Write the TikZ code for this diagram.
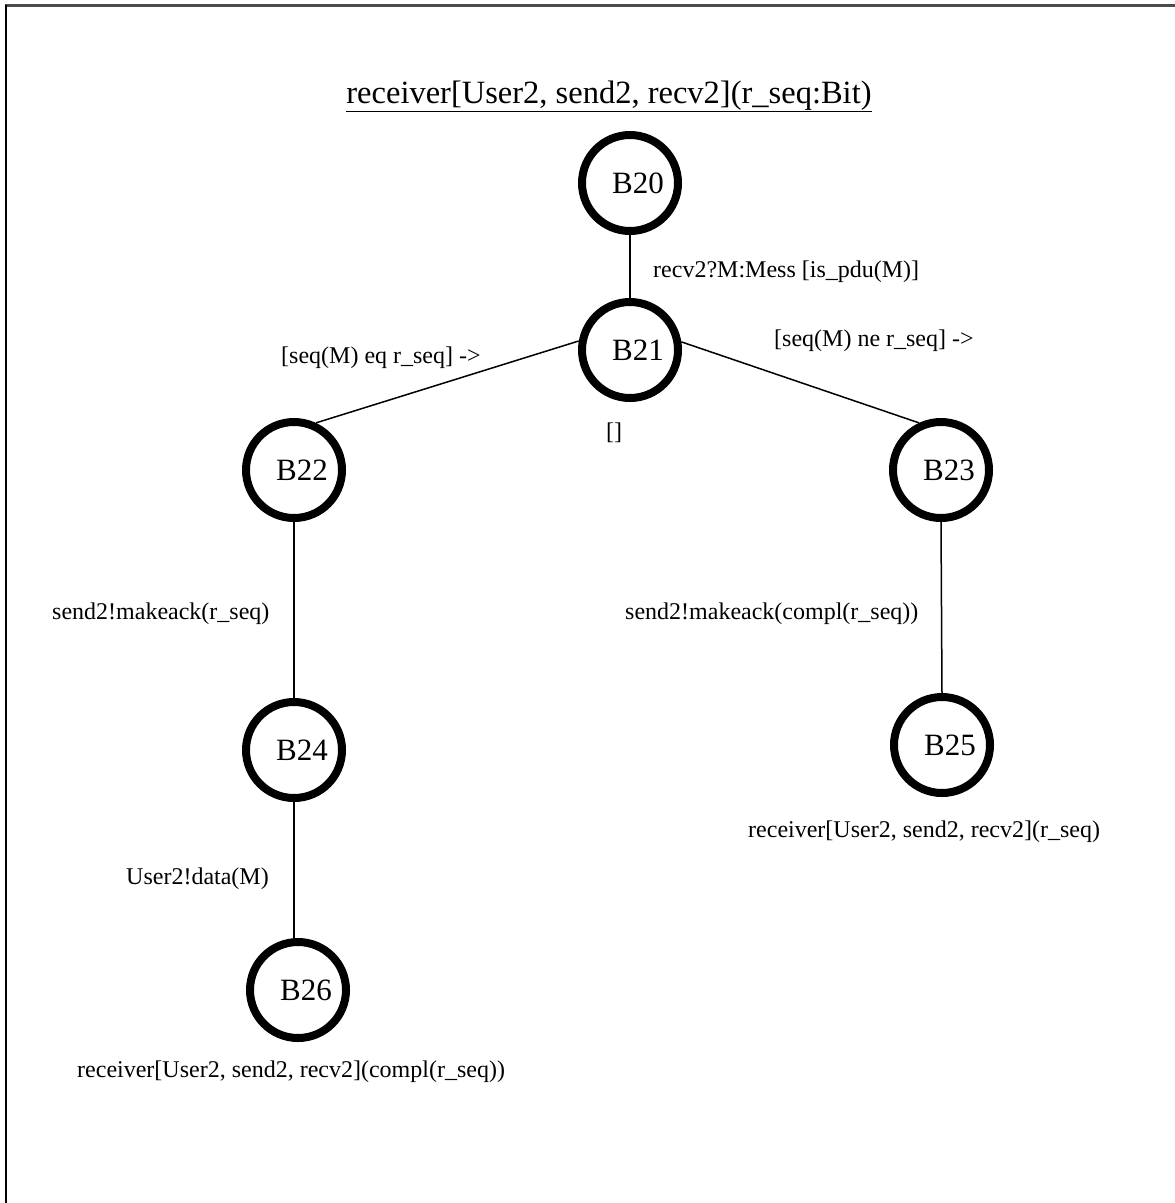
\documentclass[tikz,border=0pt]{standalone}
\usepackage{fontspec}
\setmainfont{Liberation Serif}
\begin{document}
\begin{tikzpicture}[x=1pt,y=-1pt,
  state/.style={draw=black,circle,line width=8pt,minimum size=96pt,inner sep=0pt,
    font=\fontsize{31}{37}\selectfont},
  lbl/.style={inner sep=0pt,font=\fontsize{24}{29}\selectfont},
  conn/.style={draw=black,line width=1.5pt}]
\useasboundingbox (0,0) rectangle (1175,1203);
\draw[line width=2.2pt,draw=black!70] (4.5,5.5) -- (1175,5.5);
\draw[line width=2pt,draw=black] (5.5,4.5) -- (5.5,1203);
% title
\node[inner sep=0pt,anchor=base,font=\fontsize{32.5}{38}\selectfont] (title) at (609,103) {\underline{receiver[User2, send2, recv2](r\_seq:Bit)}};
% states
\node[state] (B20) at (630,183) {\hspace*{16pt}B20};
\node[state] (B21) at (630,350) {\hspace*{16pt}B21};
\node[state] (B22) at (294,470) {\hspace*{16pt}B22};
\node[state] (B23) at (941,470) {\hspace*{16pt}B23};
\node[state] (B24) at (294,750) {\hspace*{16pt}B24};
\node[state] (B25) at (942,745) {\hspace*{16pt}B25};
\node[state] (B26) at (298,990) {\hspace*{16pt}B26};
% connectors
\path[conn] (B20.south) -- (B21.north);
\path[conn] (B21.170) -- (B22.65);
\path[conn] (B21.9) -- (B23.115);
\path[conn] (B22.south) -- (B24.north);
\path[conn] (B23.south) -- (B25.north);
\path[conn] (B24.south) -- (B24.south |- B26.north);
% labels
\node[lbl,anchor=west] (l1) at (653,272) {recv2?M:Mess [is\_pdu(M)]};
\node[lbl,anchor=west] (l2) at (774,341) {[seq(M) ne r\_seq] ->};
\node[lbl,anchor=west] (l3) at (281,358) {[seq(M) eq r\_seq] ->};
\node[lbl] (l4) at (614,433) {[]};
\node[lbl,anchor=west] (l5) at (52,614) {send2!makeack(r\_seq)};
\node[lbl,anchor=west] (l6) at (625,614) {send2!makeack(compl(r\_seq))};
\node[lbl,anchor=west] (l7) at (126,879) {User2!data(M)};
\node[lbl,anchor=west] (l8) at (748,832) {receiver[User2, send2, recv2](r\_seq)};
\node[lbl,anchor=west] (l9) at (77,1072) {receiver[User2, send2, recv2](compl(r\_seq))};
\end{tikzpicture}
\end{document}
